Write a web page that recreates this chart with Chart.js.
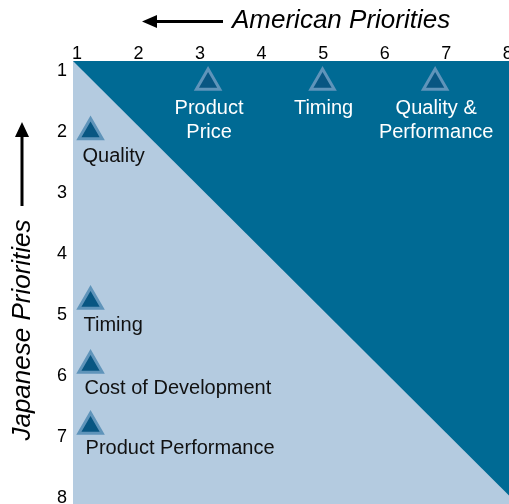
<!DOCTYPE html>
<html>
<head>
<meta charset="utf-8">
<script src="https://cdn.jsdelivr.net/npm/chart.js@4/dist/chart.umd.min.js"></script>
<style>
    html, body { margin: 0; padding: 0; background: #ffffff; overflow: hidden; }
    #priorities-chart { display: block; }
</style>
</head>
<body>
<canvas id="priorities-chart" width="509" height="504"></canvas>
<script>
// Datos del grafico
var tickValues = [1, 2, 3, 4, 5, 6, 7, 8];

// Prioridades americanas (fila superior)
var americanLabels = [['Product', 'Price'], ['Timing'], ['Quality &', 'Performance']];
var americanX = [3.13, 4.99, 6.82];
var americanY = [1.19, 1.19, 1.19];

// Prioridades japonesas (columna izquierda)
var japaneseLabels = ['Quality', 'Timing', 'Cost of Development', 'Product Performance'];
var japaneseX = [1.22, 1.22, 1.22, 1.22];
var japaneseY = [2.0, 4.78, 5.83, 6.83];

// Limites visibles de los ejes
var xMin = 0.935, xMax = 8.02;
var yMin = 0.836, yMax = 8.1;

// Diagonal que separa las dos zonas
var diagonalX = [xMin, xMax];
var diagonalY = [yMin, 7.96];

var DARK = 'rgb(0, 106, 148)';
var LIGHT = 'rgb(180, 203, 224)';
var MARK_FILL = 'rgb(8, 86, 130)';
var MARK_LINE = 'rgb(95, 148, 186)';
var FONT = '"Liberation Sans", Arial, sans-serif';

function toPoints(xs, ys) {
    return xs.map(function(x, i) { return { x: x, y: ys[i] }; });
}

/**
 * Fondo claro del area del grafico
 */
var areaBackground = {
    id: 'areaBackground',
    beforeDraw: function(chart) {
        var a = chart.chartArea, ctx = chart.ctx;
        ctx.save();
        ctx.fillStyle = LIGHT;
        ctx.fillRect(a.left, a.top, a.right - a.left, a.bottom - a.top);
        ctx.restore();
    }
};

/**
 * Etiquetas de los puntos y titulos con flechas
 */
var annotations = {
    id: 'annotations',
    afterDatasetsDraw: function(chart) {
        var ctx = chart.ctx;
        ctx.save();
        ctx.font = '20px ' + FONT;

        // Etiquetas americanas (blancas, centradas)
        ctx.fillStyle = '#ffffff';
        ctx.textAlign = 'center';
        ctx.textBaseline = 'alphabetic';
        chart.getDatasetMeta(1).data.forEach(function(pt, i) {
            americanLabels[i].forEach(function(line, j) {
                ctx.fillText(line, pt.x + 1, pt.y + 31.5 + j * 24);
            });
        });

        // Etiquetas japonesas (negras, a la izquierda)
        ctx.fillStyle = '#111111';
        ctx.textAlign = 'left';
        chart.getDatasetMeta(2).data.forEach(function(pt, i) {
            ctx.fillText(japaneseLabels[i], pt.x - 8 + i, pt.y + 30 - i);
        });
        ctx.restore();
    },
    afterDraw: function(chart) {
        var ctx = chart.ctx;
        ctx.save();
        ctx.fillStyle = '#000000';
        ctx.strokeStyle = '#000000';
        ctx.lineWidth = 3;

        // Flecha horizontal
        ctx.beginPath();
        ctx.moveTo(223, 21.5);
        ctx.lineTo(154, 21.5);
        ctx.stroke();
        ctx.beginPath();
        ctx.moveTo(142, 21.5);
        ctx.lineTo(157, 15);
        ctx.lineTo(157, 28);
        ctx.closePath();
        ctx.fill();

        // Flecha vertical
        ctx.beginPath();
        ctx.moveTo(22, 206);
        ctx.lineTo(22, 134);
        ctx.stroke();
        ctx.beginPath();
        ctx.moveTo(22, 122);
        ctx.lineTo(15, 137);
        ctx.lineTo(29, 137);
        ctx.closePath();
        ctx.fill();

        // Titulos
        ctx.font = 'italic 26px ' + FONT;
        ctx.textAlign = 'left';
        ctx.textBaseline = 'middle';
        ctx.fillText('American Priorities', 232, 21);

        ctx.translate(23, 330);
        ctx.rotate(-Math.PI / 2);
        ctx.textAlign = 'center';
        ctx.fillText('Japanese Priorities', 0, 0);
        ctx.restore();
    }
};

function setTicks(scale) {
    scale.ticks = tickValues.map(function(v) { return { value: v }; });
}

var ctx = document.getElementById('priorities-chart');
new Chart(ctx, {
    type: 'scatter',
    data: {
        datasets: [{
            type: 'line',
            data: toPoints(diagonalX, diagonalY),
            fill: { value: yMin },
            backgroundColor: DARK,
            borderWidth: 0,
            pointRadius: 0,
            order: 3
        }, {
            data: toPoints(americanX, americanY),
            pointStyle: 'triangle',
            pointRadius: 13.5,
            pointHoverRadius: 13.5,
            backgroundColor: MARK_FILL,
            borderColor: MARK_LINE,
            borderWidth: 3,
            order: 1
        }, {
            data: toPoints(japaneseX, japaneseY),
            pointStyle: 'triangle',
            pointRadius: 13.5,
            pointHoverRadius: 13.5,
            backgroundColor: MARK_FILL,
            borderColor: MARK_LINE,
            borderWidth: 3,
            order: 1
        }]
    },
    options: {
        responsive: false,
        animation: false,
        events: [],
        layout: { padding: 0, autoPadding: false },
        plugins: {
            legend: { display: false },
            tooltip: { enabled: false },
            title: { display: false }
        },
        scales: {
            x: {
                type: 'linear',
                position: 'top',
                min: xMin,
                max: xMax,
                afterBuildTicks: setTicks,
                afterFit: function(scale) {
                    scale.height = 61;
                    scale.paddingLeft = 0;
                    scale.paddingRight = 0;
                },
                grid: { display: false, drawTicks: false },
                border: { display: false },
                ticks: {
                    autoSkip: false,
                    maxRotation: 0,
                    padding: -2,
                    color: '#000000',
                    font: { family: FONT, size: 18, lineHeight: 1 }
                }
            },
            y: {
                type: 'linear',
                reverse: true,
                min: yMin,
                max: yMax,
                afterBuildTicks: setTicks,
                afterFit: function(scale) {
                    scale.width = 73;
                    scale.paddingTop = 0;
                    scale.paddingBottom = 0;
                },
                grid: { display: false, drawTicks: false },
                border: { display: false },
                ticks: {
                    autoSkip: false,
                    padding: 6,
                    color: '#000000',
                    font: { family: FONT, size: 18 }
                }
            }
        }
    },
    plugins: [areaBackground, annotations]
});
</script>
</body>
</html>
